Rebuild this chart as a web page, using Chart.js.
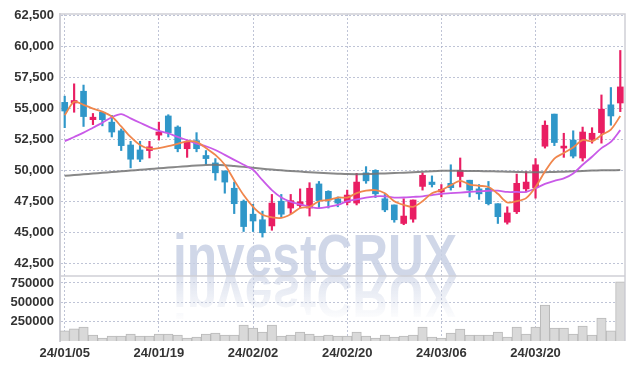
<!DOCTYPE html>
<html lang="en">
  <head>
    <meta charset="UTF-8" />
    <title>Candlestick chart</title>
    <script src="https://cdn.jsdelivr.net/npm/chart.js"></script>
    <style>
      body {
        margin: 0;
        padding: 0;
        background: #fff;
      }
    </style>
  </head>
  <body>
    <canvas id="stockChart" width="634" height="370"></canvas>

    <script>
      const labels = [
        "24/01/05", "24/01/08", "24/01/09", "24/01/10", "24/01/11", "24/01/12", "24/01/15", "24/01/16", "24/01/17", "24/01/18",
        "24/01/19", "24/01/22", "24/01/23", "24/01/24", "24/01/25", "24/01/26", "24/01/29", "24/01/30", "24/01/31", "24/02/01",
        "24/02/02", "24/02/05", "24/02/06", "24/02/07", "24/02/08", "24/02/13", "24/02/14", "24/02/15", "24/02/16", "24/02/19",
        "24/02/20", "24/02/21", "24/02/22", "24/02/23", "24/02/26", "24/02/27", "24/02/28", "24/02/29", "24/03/04", "24/03/05",
        "24/03/06", "24/03/07", "24/03/08", "24/03/11", "24/03/12", "24/03/13", "24/03/14", "24/03/15", "24/03/18", "24/03/19",
        "24/03/20", "24/03/21", "24/03/22", "24/03/25", "24/03/26", "24/03/27", "24/03/28", "24/03/29", "24/04/01", "24/04/02",
      ];

      const openPrices = [
        55500, 55450, 56400, 54100, 54700, 53900, 53200, 52050, 51650, 51600,
        52850, 54400, 53500, 51750, 52400, 51200, 50600, 49950, 48550, 47500,
        46450, 46000, 45500, 47500, 46950, 47150, 46950, 48900, 48300, 47700,
        47400, 47350, 49800, 50000, 47700, 47200, 45700, 46050, 48700, 49050,
        48250, 48950, 49500, 49200, 48500, 48550, 47300, 45800, 46650, 48500,
        48600, 51950, 54550, 51800, 52450, 51000, 52500, 53050, 55300, 55450,
      ];
      const closePrices = [
        54800, 55650, 54350, 54300, 54100, 53100, 52000, 50900, 50900, 51900,
        53100, 53050, 51750, 52300, 51750, 50950, 49800, 49050, 47300, 45450,
        45900, 44950, 47350, 46450, 47550, 47450, 48550, 47550, 47600, 47350,
        48000, 49050, 49150, 48100, 46800, 46000, 46300, 47600, 49600, 48850,
        48450, 48600, 50000, 48400, 48100, 47300, 46250, 46550, 48950, 49050,
        50450, 53650, 52250, 51950, 51150, 53100, 53000, 54950, 54400, 56750,
      ];
      const highPrices = [
        56000, 57000, 56900, 54600, 54750, 54450, 53350, 52350, 52350, 52350,
        53900, 54500, 53600, 52450, 53050, 51600, 50950, 49950, 49050, 47600,
        47250, 46700, 48050, 48050, 48050, 48500, 49000, 49100, 48350, 47850,
        48400, 49750, 50300, 50050, 48050, 47200, 47700, 47600, 49800, 49550,
        48850, 50450, 51000, 49200, 48850, 49100, 47300, 47050, 49700, 49900,
        50950, 54000, 54550, 53000, 53200, 53500, 53450, 56100, 56700, 59700,
      ];
      const lowPrices = [
        53450, 54700, 53550, 53700, 53600, 52700, 51600, 50200, 50700, 51000,
        52450, 52700, 51500, 51050, 51500, 50500, 49200, 48150, 46500, 45050,
        45050, 44600, 45150, 46200, 46500, 46950, 46300, 46950, 46950, 47050,
        47200, 47200, 48950, 47800, 46650, 45800, 45600, 45800, 48400, 48650,
        47850, 48400, 48650, 47850, 47650, 47200, 45700, 45650, 46500, 48250,
        47750, 51800, 52000, 51050, 51000, 50750, 52200, 52200, 53650, 54750,
      ];
      const volumes = [
        133000, 158000, 180000, 77000, 39000, 64000, 64000, 90000, 64000, 64000,
        90000, 90000, 77000, 39000, 52000, 90000, 103000, 77000, 77000, 206000,
        167000, 116000, 206000, 64000, 77000, 116000, 90000, 64000, 77000, 64000,
        64000, 116000, 64000, 39000, 77000, 52000, 64000, 77000, 180000, 52000,
        39000, 103000, 155000, 77000, 77000, 77000, 116000, 52000, 180000, 90000,
        180000, 464000, 167000, 167000, 90000, 193000, 77000, 296000, 133000, 764000,
      ];

      // moving averages
      const ma5 = [
        54450, 55550, 55300, 55000, 54750, 54350, 53550, 52700, 52050, 51750,
        51800, 51950, 52150, 52350, 52300, 51800, 51250, 50450, 49200, 48000,
        47050, 46400, 46200, 46150, 46450, 46950, 47050, 47500, 47600, 47800,
        47800, 48150, 48350, 48400, 48150, 47500, 47200, 47050, 47500, 48150,
        48400, 48800, 49150, 48850, 48750, 48650, 48100, 47400, 47500, 47750,
        48650, 49900, 50950, 51400, 51850, 52450, 52350, 52850, 53300, 54400,
      ];
      const ma20 = [
        52350, 52700, 53050, 53450, 53850, 54300, 54550, 54200, 53850, 53500,
        53200, 53000, 52700, 52450, 52150, 51950, 51650, 51250, 50850, 50450,
        50050, 49200, 48400, 47800, 47450, 47250, 47050, 46950, 47050, 47200,
        47500, 47650, 47800, 47900, 47900, 47800, 47800, 47850, 47900, 48000,
        48100, 48150, 48200, 48250, 48300, 48350, 48350, 48250, 48250, 48250,
        48550, 48900, 49150, 49350, 49750, 50450, 51100, 51800, 52300, 53250,
      ];
      const ma120 = [
        49560, 49620, 49680, 49740, 49800, 49860, 49920, 49980, 50040, 50100,
        50160, 50220, 50280, 50340, 50390, 50430, 50450, 50420, 50350, 50280,
        50200, 50130, 50060, 50000, 49950, 49900, 49850, 49800, 49760, 49730,
        49700, 49690, 49700, 49720, 49750, 49780, 49810, 49850, 49890, 49930,
        49960, 49970, 49960, 49950, 49940, 49930, 49910, 49890, 49870, 49850,
        49840, 49850, 49870, 49890, 49920, 49950, 49980, 50000, 50010, 50020,
      ];

      const priceTicks = [42500, 45000, 47500, 50000, 52500, 55000, 57500, 60000, 62500];
      const volumeTicks = [250000, 500000, 750000];

      const UP = "#e91e63";
      const DOWN = "#3097c9";
      const GRID = "rgba(170,176,200,0.75)";
      const FONT = { family: "'Liberation Sans', Arial, sans-serif", size: 13, weight: "bold" };
      const TICK_COLOR = "#333";

      const candleColors = openPrices.map((o, i) =>
        closePrices[i] >= o ? UP : DOWN
      );

      // watermark "investCRUX" with its reflection below the price panel
      const watermark = {
        id: "watermark",
        beforeDatasetsDraw(chart) {
          const ctx = chart.ctx;
          const base = chart.scales.y.bottom;
          const left = 173;
          const targetWidth = 284;
          ctx.save();
          ctx.font = "bold 60px 'Liberation Sans', Arial, sans-serif";
          const sx = targetWidth / ctx.measureText("investCRUX").width;

          ctx.save();
          ctx.translate(left, base);
          ctx.scale(sx, 1);
          ctx.fillStyle = "rgba(200,208,228,0.85)";
          ctx.fillText("investCRUX", 0, 0);
          ctx.restore();

          ctx.save();
          ctx.beginPath();
          ctx.rect(0, base, chart.width, 48);
          ctx.clip();
          ctx.translate(left, base);
          ctx.scale(sx, -1);
          const g = ctx.createLinearGradient(0, 0, 0, -46);
          g.addColorStop(0, "rgba(200,208,228,0.6)");
          g.addColorStop(1, "rgba(200,208,228,0)");
          ctx.fillStyle = g;
          ctx.fillText("investCRUX", 0, 0);
          ctx.restore();

          ctx.restore();
        },
        afterDraw(chart) {
          const ctx = chart.ctx;
          const a = chart.chartArea;
          const y = chart.scales.y;
          ctx.save();
          ctx.strokeStyle = "#cfcfd6";
          ctx.lineWidth = 1.5;
          ctx.beginPath();
          ctx.moveTo(a.left, a.top);
          ctx.lineTo(a.right, a.top);
          ctx.lineTo(a.right, a.bottom);
          ctx.moveTo(a.left, y.bottom);
          ctx.lineTo(a.right, y.bottom);
          ctx.stroke();
          ctx.restore();
        },
      };

      function drawChart() {
        const ctx = document.getElementById("stockChart").getContext("2d");

        new Chart(ctx, {
          type: "bar",
          data: {
            labels: labels,
            datasets: [
              {
                type: "line",
                label: "MA5",
                data: ma5,
                borderColor: "#f0864c",
                borderWidth: 1.8,
                pointRadius: 0,
                tension: 0.3,
                yAxisID: "y",
                order: 0,
              },
              {
                type: "line",
                label: "MA20",
                data: ma20,
                borderColor: "#c95ae8",
                borderWidth: 1.8,
                pointRadius: 0,
                tension: 0.3,
                yAxisID: "y",
                order: 0,
              },
              {
                type: "line",
                label: "MA120",
                data: ma120,
                borderColor: "rgba(115,115,115,0.85)",
                borderWidth: 2,
                pointRadius: 0,
                tension: 0.3,
                yAxisID: "y",
                order: 0,
              },
              {
                label: "wick",
                data: lowPrices.map((l, i) => [l, highPrices[i]]),
                backgroundColor: candleColors,
                barThickness: 1.5,
                grouped: false,
                yAxisID: "y",
                order: 1,
              },
              {
                label: "body",
                data: openPrices.map((o, i) => [o, closePrices[i]]),
                backgroundColor: candleColors,
                barThickness: 6,
                minBarLength: 2,
                grouped: false,
                yAxisID: "y",
                order: 1,
              },
              {
                label: "volume",
                data: volumes,
                backgroundColor: "#d9d9d9",
                borderColor: "#b9b9b9",
                borderWidth: 1,
                barPercentage: 1,
                categoryPercentage: 1,
                grouped: false,
                yAxisID: "yv",
                order: 2,
              },
            ],
          },
          options: {
            responsive: false,
            animation: false,
            devicePixelRatio: 1,
            layout: { padding: { top: 14, right: 9, left: 0, bottom: 0 } },
            plugins: {
              legend: { display: false },
              tooltip: { enabled: false },
            },
            scales: {
              x: {
                type: "category",
                offset: true,
                grid: {
                  offset: false,
                  drawTicks: false,
                  color: (c) => (c.index % 10 === 0 ? GRID : "transparent"),
                },
                border: { display: false, dash: [2, 2] },
                ticks: {
                  autoSkip: false,
                  maxRotation: 0,
                  padding: 5,
                  color: TICK_COLOR,
                  font: FONT,
                  callback: function (v, i) {
                    return i % 10 === 0 ? this.getLabelForValue(v) : "";
                  },
                },
                afterFit: (s) => {
                  s.height = 29;
                },
              },
              yv: {
                type: "linear",
                position: "left",
                stack: "panels",
                stackWeight: 65,
                min: 0,
                max: 840000,
                grid: { color: GRID, drawTicks: false },
                border: { color: "#cfcfd6", width: 2, dash: [2, 2] },
                ticks: {
                  autoSkip: false,
                  padding: 6,
                  color: TICK_COLOR,
                  font: FONT,
                  callback: (v) => String(v),
                },
                afterBuildTicks: (s) => {
                  s.ticks = volumeTicks.map((v) => ({ value: v }));
                },
                afterFit: (s) => {
                  s.width = 60;
                },
              },
              y: {
                type: "linear",
                position: "left",
                stack: "panels",
                stackWeight: 262,
                min: 41450,
                max: 62650,
                grid: { color: GRID, drawTicks: false },
                border: { color: "#cfcfd6", width: 2, dash: [2, 2] },
                ticks: {
                  autoSkip: false,
                  padding: 6,
                  color: TICK_COLOR,
                  font: FONT,
                  callback: (v) => v.toLocaleString("en-US"),
                },
                afterBuildTicks: (s) => {
                  s.ticks = priceTicks.map((v) => ({ value: v }));
                },
                afterFit: (s) => {
                  s.width = 60;
                },
              },
            },
          },
          plugins: [watermark],
        });
      }

      window.addEventListener("load", drawChart);
    </script>
  </body>
</html>
